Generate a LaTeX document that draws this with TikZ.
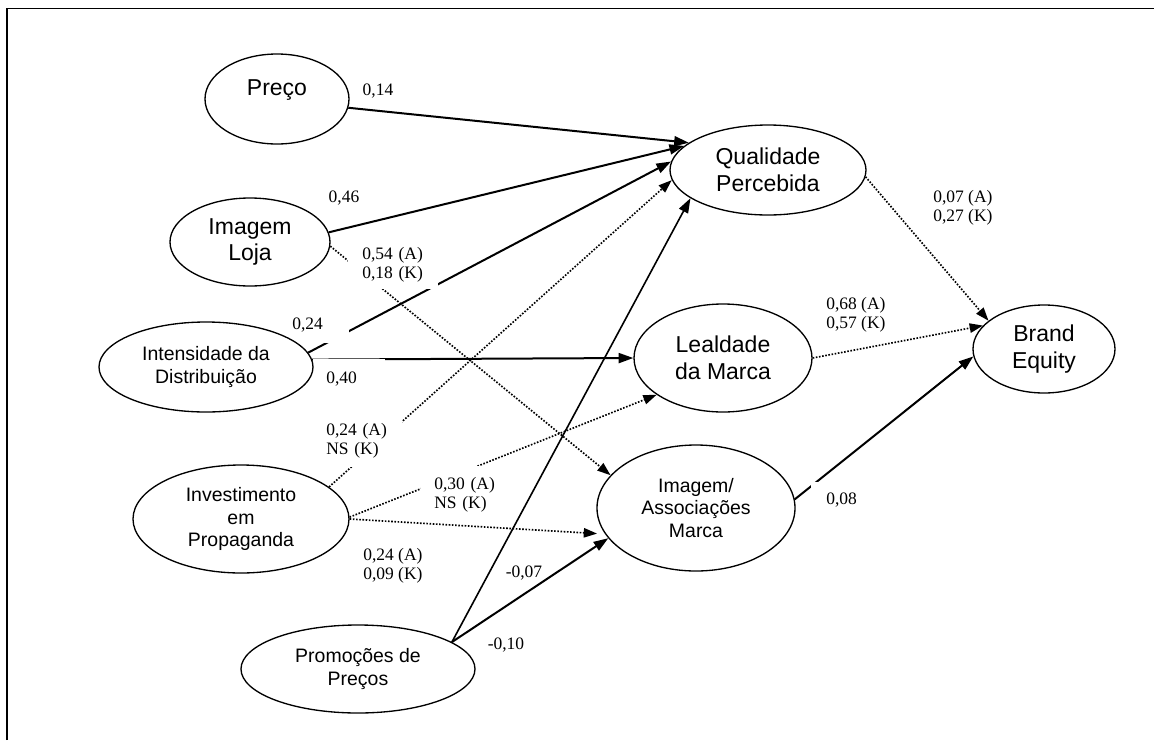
\documentclass[tikz,border=0pt]{standalone}
\usepackage{fontspec}
\setmainfont{Liberation Serif}
\newfontfamily\arialf{Liberation Sans}
\usetikzlibrary{shapes.geometric,arrows.meta}

% connectors sit under the white coefficient boxes, which sit under the constructs
\pgfdeclarelayer{lines}
\pgfdeclarelayer{boxes}
\pgfsetlayers{lines,boxes,main}

\tikzset{
  construct/.style={ellipse, draw, line width=1pt, inner sep=0pt, align=center,
    font=\arialf\fontsize{17.25pt}{20pt}\selectfont},
  smallconstruct/.style={construct, font=\arialf\fontsize{14.6pt}{16.9pt}\selectfont},
  solidarrow/.style={line width=1.5pt, -{Triangle[length=11pt,width=7.5pt]}},
  dottedarrow/.style={line width=1.25pt, dash pattern=on 1.2pt off 1.2pt,
    -{Triangle[length=10pt,width=7pt]}},
  coef/.style={font=\fontsize{13.1pt}{14.25pt}\selectfont, inner sep=0pt, align=left},
  coefbox/.style={coef, fill=white, anchor=north west},
}

\begin{document}
\begin{tikzpicture}[x=0.75pt,y=-0.75pt]
\useasboundingbox (0,0) rectangle (1154,740);

% frame
\draw[line width=1.4pt] (7,740) -- (7,8.5) -- (1154,8.5);

% constructs
\node[construct, minimum width=108pt, minimum height=67.5pt, text height=12.4pt, text depth=18.4pt] (preco) at (277,99) {Preço};
\node[construct, minimum width=120pt, minimum height=66pt] (imgloja) at (250,242) {Imagem\\Loja};
\node[smallconstruct, minimum width=160.5pt, minimum height=67.5pt] (intens) at (206,367) {Intensidade da\\Distribuição};
\node[smallconstruct, minimum width=162pt, minimum height=81pt] (invest) at (241,519) {Investimento\\em\\Propaganda};
\node[smallconstruct, minimum width=175.5pt, minimum height=66pt] (promo) at (358,669) {Promoções de\\Preços};
\node[construct, minimum width=147pt, minimum height=67.5pt] (qual) at (768,170) {Qualidade\\Percebida};
\node[construct, minimum width=133.5pt, minimum height=81pt] (leal) at (723,358) {Lealdade\\da Marca};
\node[smallconstruct, minimum width=148.5pt, minimum height=94.5pt] (imgassoc) at (696,508) {Imagem/\\Associações\\Marca};
\node[construct, minimum width=106.5pt, minimum height=66pt] (brand) at (1044,349) {Brand\\Equity};

% paths
\begin{pgfonlayer}{lines}
\draw[solidarrow] (preco.-7.1) -- (qual.161.8);
\draw[solidarrow] (imgloja.7.1) -- (qual.164.8);
\draw[solidarrow] (intens.8.9) -- (qual.175.9);
\draw[solidarrow] (intens.4.8) -- (leal.180);
\draw[dottedarrow] (imgloja.-3.6) -- (imgassoc.159.1);
\draw[dottedarrow] (invest.20.9) -- (qual.-174.2);
\draw[dottedarrow] (invest.1) -- (leal.-151.6);
\draw[dottedarrow, shorten >=6pt] (invest.0) -- (imgassoc.-164.7);
\draw[solidarrow, line width=1.2pt] (promo.16.1) -- (qual.-160.5);
\draw[solidarrow] (promo.16.1) -- (imgassoc.-161.4);
\draw[dottedarrow] (qual.-4.7) -- (brand.153.4);
\draw[dottedarrow] (leal.0.6) -- (brand.159);
\draw[solidarrow] (imgassoc.5.2) -- (brand.-174.4);
\end{pgfonlayer}

% path coefficients
\begin{pgfonlayer}{boxes}
\node[coefbox, inner xsep=10.5pt, inner ysep=5.25pt, text width=46.5pt] (c054) at (348,240) {0,54 (A)\\0,18 (K)};
\node[coefbox, inner xsep=7.5pt, inner ysep=7.5pt, text width=35.25pt] (c024) at (282,308) {0,24};
\node[coefbox, inner xsep=9.75pt, inner ysep=10.1pt, text width=34.5pt] (c040) at (313,358.5) {0,40};
\node[coefbox, inner xsep=10.5pt, inner ysep=6.75pt, text width=46.5pt] (c024a) at (312,414) {0,24 (A)\\NS (K)};
\node[coefbox, inner xsep=9.75pt, inner ysep=8pt, text width=46.5pt] (c030) at (421,466) {0,30 (A)\\NS (K)};
\node[coefbox, inner xsep=11.25pt, inner ysep=8.25pt, text width=30pt] (c008) at (811,482) {0,08};
\end{pgfonlayer}

\node[coef] (c014) at (378,91) {0,14};
\node[coef] (c046) at (344,198) {0,46};
\node[coef, anchor=west] (c024b) at (363,566) {0,24 (A)\\0,09 (K)};
\node[coef] (cm007) at (524,573) {-0,07};
\node[coef] (cm010) at (506,645) {-0,10};
\node[coef, anchor=west] (c007) at (933,208) {0,07 (A)\\0,27 (K)};
\node[coef, anchor=west] (c068) at (826,315) {0,68 (A)\\0,57 (K)};
\end{tikzpicture}
\end{document}
